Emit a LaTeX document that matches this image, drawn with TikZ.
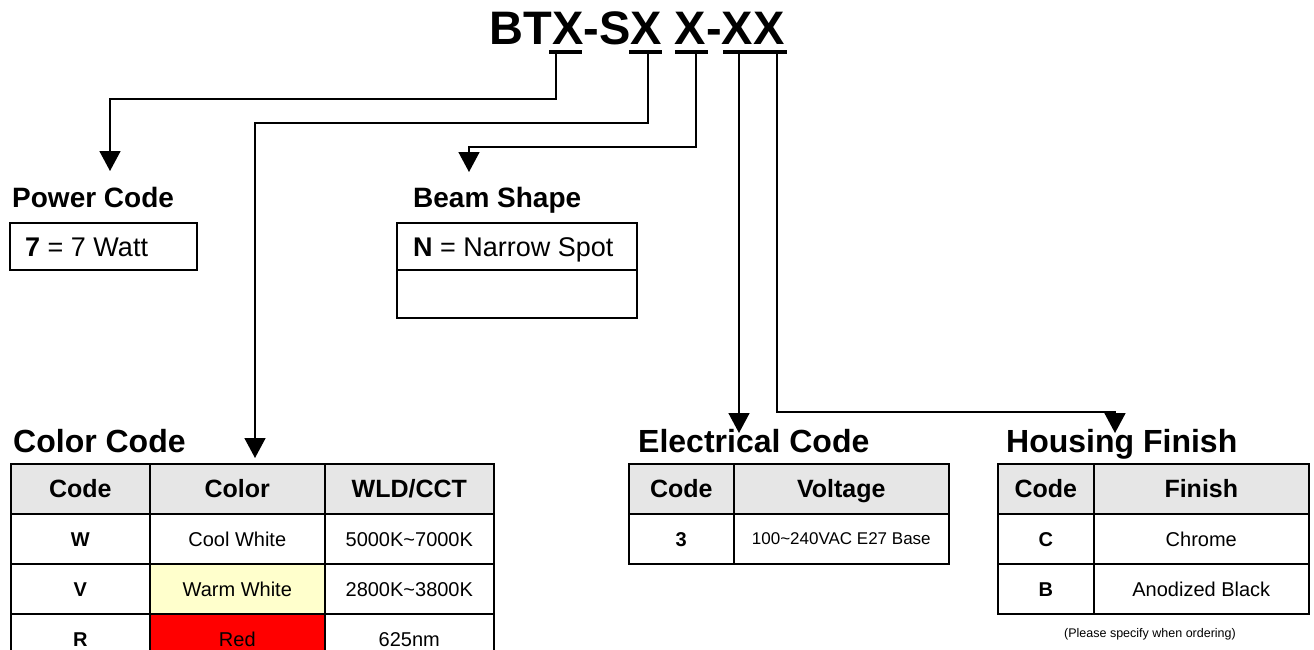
\documentclass[tikz,border=0pt]{standalone}
\usepackage{fontspec}
\setmainfont{Liberation Sans}
\usetikzlibrary{arrows.meta}
\definecolor{hdrgray}{RGB}{230,230,230}
\definecolor{warmyellow}{RGB}{255,255,204}
\tikzset{
  cell/.style={draw, line width=1.6pt, anchor=north west, inner sep=0pt,
    minimum height=50pt, text height=14.4pt, text depth=0pt, font=\fontsize{20}{22}\selectfont},
  hdr/.style={cell, fill=hdrgray, text height=18pt, font=\fontsize{25}{27}\selectfont\bfseries},
  heading/.style={anchor=base west, inner sep=0pt, font=\fontsize{28}{30}\selectfont\bfseries},
  bigheading/.style={heading, font=\fontsize{32}{34}\selectfont\bfseries},
  boxtext/.style={anchor=base west, inner sep=0pt, font=\fontsize{27}{29}\selectfont},
  lead/.style={line width=1.6pt, -{Triangle[width=21pt,length=20pt]}},
  bar/.style={line width=4pt},
}
\begin{document}
\begin{tikzpicture}[x=1pt,y=-1pt]
\useasboundingbox (0,0) rectangle (1314,649);

% part number
\node[inner sep=0pt, font=\fontsize{47}{50}\selectfont\bfseries] (pn) at (637,28) {BTX-SX X-XX};
\foreach \n/\a/\b in {1/549/582, 2/629/662, 3/675/708, 4/723/787}
    \draw[bar] (\a,52) -- (\b,52);
\coordinate (b1) at (556,54);
\coordinate (b2) at (648,54);
\coordinate (b3) at (696,54);
\coordinate (b4a) at (739,54);
\coordinate (b4b) at (777,54);

% arrow tips
\coordinate (pc-tip) at (110,171);
\coordinate (cl-tip) at (255,458);
\coordinate (bs-tip) at (469,172);
\coordinate (el-tip) at (739,433);
\coordinate (hf-tip) at (1115,433);

\draw[lead] (b1) -- ++(0,45) -| (pc-tip);
\draw[lead] (b2) -- ++(0,69) -| (cl-tip);
\draw[lead] (b3) -- ++(0,93) -| (bs-tip);
\draw[lead] (b4a) -- (el-tip);
\draw[lead] (b4b) -- ++(0,358) -| (hf-tip);

% power code
\node[heading] (pc) at (12,207) {Power Code};
\draw[line width=1.6pt] (10,223) rectangle (197,270);
\node[boxtext] (pc-7) at (25,256) {\textbf{7} = 7 Watt};

% beam shape
\node[heading] (bs) at (413,207) {Beam Shape};
\draw[line width=1.6pt] (397,223) rectangle (637,318) (397,270) -- (637,270);
\node[boxtext] (bs-n) at (413,256) {\textbf{N} = Narrow Spot};

% color code
\node[bigheading] (cl) at (13,452) {Color Code};
\node[hdr, minimum width=139pt] (cl-h1) at (10,463) {Code};
\node[hdr, minimum width=175pt] (cl-h2) at (149,463) {Color};
\node[hdr, minimum width=169pt] (cl-h3) at (324,463) {WLD/CCT};
\foreach \c/\name/\wld/\fc [count=\r] in {W/Cool White/5000K\textasciitilde 7000K/white,
    V/Warm White/2800K\textasciitilde 3800K/warmyellow, R/Red/625nm/red}{
    \node[cell, minimum width=139pt, font=\fontsize{20}{22}\selectfont\bfseries] (cl-\r-1) at (10,463+50*\r) {\c};
    \node[cell, minimum width=175pt, fill=\fc] (cl-\r-2) at (149,463+50*\r) {\name};
    \node[cell, minimum width=169pt] (cl-\r-3) at (324,463+50*\r) {\wld};
}

% electrical code
\node[bigheading] (el) at (638,452) {Electrical Code};
\node[hdr, minimum width=105pt] (el-h1) at (628,463) {Code};
\node[hdr, minimum width=215pt] (el-h2) at (733,463) {Voltage};
\node[cell, minimum width=105pt, font=\fontsize{20}{22}\selectfont\bfseries] (el-1-1) at (628,513) {3};
\node[cell, minimum width=215pt, text height=12.2pt, font=\fontsize{17}{19}\selectfont] (el-1-2) at (733,513) {100\textasciitilde 240VAC E27 Base};

% housing finish
\node[bigheading] (hf) at (1006,452) {Housing Finish};
\node[hdr, minimum width=96pt] (hf-h1) at (997,463) {Code};
\node[hdr, minimum width=215pt] (hf-h2) at (1093,463) {Finish};
\foreach \c/\name [count=\r] in {C/Chrome, B/Anodized Black}{
    \node[cell, minimum width=96pt, font=\fontsize{20}{22}\selectfont\bfseries] (hf-\r-1) at (997,463+50*\r) {\c};
    \node[cell, minimum width=215pt] (hf-\r-2) at (1093,463+50*\r) {\name};
}
\node[inner sep=0pt, font=\fontsize{12.5}{14}\selectfont] (note) at (1150,634) {(Please specify when ordering)};
\end{tikzpicture}
\end{document}
